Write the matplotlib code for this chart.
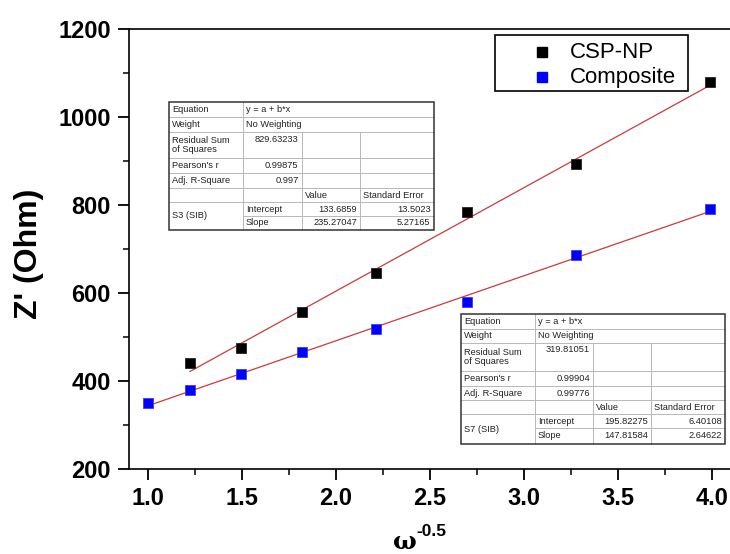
import matplotlib
matplotlib.use("Agg")
import matplotlib.pyplot as plt
from matplotlib.lines import Line2D
from matplotlib.patches import Rectangle
from matplotlib.ticker import MultipleLocator

plt.rcParams['font.family'] = ['Liberation Sans', 'DejaVu Sans']

# ---- data ----
x_csp = [1.224, 1.493, 1.820, 2.213, 2.695, 3.277, 3.990]
y_csp = [440, 475, 556, 645, 784, 894, 1080]
x_comp = [1.000, 1.224, 1.493, 1.820, 2.213, 2.695, 3.277, 3.990]
y_comp = [351, 379, 416, 467, 518, 580, 687, 792]

csp_intercept, csp_slope = 133.6859, 235.27047
comp_intercept, comp_slope = 195.82275, 147.81584

series_names = ["CSP-NP", "Composite"]
series_colors = ["black", "#0000ff"]
x_ticks = [1.0, 1.5, 2.0, 2.5, 3.0, 3.5, 4.0]
y_ticks = [200, 400, 600, 800, 1000, 1200]

table1_rows = [
    ["Equation", "y = a + b*x"],
    ["Weight", "No Weighting"],
    ["Residual Sum\nof Squares", "829.63233"],
    ["Pearson's r", "0.99875"],
    ["Adj. R-Square", "0.997"],
    ["", "", "Value", "Standard Error"],
    ["S3 (SIB)", "Intercept", "133.6859", "13.5023"],
    ["", "Slope", "235.27047", "5.27165"],
]
table2_rows = [
    ["Equation", "y = a + b*x"],
    ["Weight", "No Weighting"],
    ["Residual Sum\nof Squares", "319.81051"],
    ["Pearson's r", "0.99904"],
    ["Adj. R-Square", "0.99776"],
    ["", "", "Value", "Standard Error"],
    ["S7 (SIB)", "Intercept", "195.82275", "6.40108"],
    ["", "Slope", "147.81584", "2.64622"],
]

W, H = 730, 554
fig = plt.figure(figsize=(W / 100, H / 100), dpi=100)
ax_left, ax_right, ax_top, ax_bottom = 129, 731, 29, 469
ax = fig.add_axes([ax_left / W, 1 - ax_bottom / H, (ax_right - ax_left) / W, (ax_bottom - ax_top) / H])


def fx(px):
    return px / W


def fy(py):
    return 1 - py / H


# fit lines
fx1 = [min(x_csp), max(x_csp)]
ax.plot(fx1, [csp_intercept + csp_slope * v for v in fx1], color='#cc3a3a', lw=0.9, zorder=2)
fx2 = [min(x_comp), max(x_comp)]
ax.plot(fx2, [comp_intercept + comp_slope * v for v in fx2], color='#cc3a3a', lw=0.9, zorder=2)

ax.plot(x_csp, y_csp, 's', color=series_colors[0], markersize=7.8, markeredgecolor='#222222',
        markeredgewidth=0.6, zorder=3)
ax.plot(x_comp, y_comp, 's', color=series_colors[1], markersize=7.8, markeredgecolor='#3c3cff',
        markeredgewidth=0.6, zorder=3)

ax.set_xlim(0.9, 4.1)
ax.set_ylim(200, 1200)
ax.set_xticks(x_ticks)
ax.set_yticks(y_ticks)
ax.xaxis.set_minor_locator(MultipleLocator(0.25))
ax.yaxis.set_minor_locator(MultipleLocator(100))
ax.set_xticklabels([f"{v:.1f}" for v in x_ticks])
ax.set_yticklabels([str(v) for v in y_ticks])
ax.tick_params(which='major', direction='out', length=8, width=1.3, labelsize=17, pad=5)
ax.tick_params(which='minor', direction='out', length=4.5, width=1.1)
for lab in ax.get_xticklabels() + ax.get_yticklabels():
    lab.set_fontweight('bold')
for s in ax.spines.values():
    s.set_linewidth(1.2)

ax.set_ylabel("Z' (Ohm)", fontsize=23, fontweight='bold')
ax.yaxis.set_label_coords((44 - ax_left) / (ax_right - ax_left), 0.49)

# x label: omega with superscript
fig.text(fx(405), fy(549), "ω", fontsize=18, fontweight='bold', family='DejaVu Serif',
         ha='center', va='baseline')
fig.text(fx(416), fy(536), "-0.5", fontsize=12.5, fontweight='bold', ha='left', va='baseline')

# legend (manual, Origin-style)
fig.patches.append(Rectangle((fx(495), fy(91)), fx(688) - fx(495), fy(35) - fy(91),
                             transform=fig.transFigure, facecolor='white', edgecolor='black',
                             lw=1.2, zorder=8))
leg_y = [52, 77]
leg_ms = [7.5, 6.5]
for name, col, yy, ms in zip(series_names, series_colors, leg_y, leg_ms):
    fig.lines.append(Line2D([fx(542)], [fy(yy)], transform=fig.transFigure, marker='s',
                            linestyle='none', markersize=ms, color=col, zorder=9))
    fig.text(fx(570), fy(yy), name, fontsize=16, va='center', ha='left', zorder=9)


def draw_table(rows, cols, rws):
    fs = 6.7
    tc = '#222222'
    gc = '#b8b8b8'
    x0, x3 = cols[0], cols[-1]
    fig.patches.append(Rectangle((fx(x0), fy(rws[-1])), fx(x3) - fx(x0), fy(rws[0]) - fy(rws[-1]),
                                 transform=fig.transFigure, facecolor='white', edgecolor='none', zorder=4))
    for i in range(1, len(rws) - 1):
        xs = cols[1] if i == 7 else cols[0]
        fig.lines.append(Line2D([fx(xs), fx(x3)], [fy(rws[i])] * 2, transform=fig.transFigure,
                                color=gc, lw=0.7, zorder=5))
    fig.lines.append(Line2D([fx(cols[1])] * 2, [fy(rws[0]), fy(rws[-1])], transform=fig.transFigure,
                            color=gc, lw=0.7, zorder=5))
    for c in (cols[2], cols[3]):
        fig.lines.append(Line2D([fx(c)] * 2, [fy(rws[2]), fy(rws[-1])], transform=fig.transFigure,
                                color=gc, lw=0.7, zorder=5))
    fig.patches.append(Rectangle((fx(x0), fy(rws[-1])), fx(x3) - fx(x0), fy(rws[0]) - fy(rws[-1]),
                                 transform=fig.transFigure, facecolor='none', edgecolor='#333333',
                                 lw=1.1, zorder=6))
    pad = 3
    kw = dict(fontsize=fs, color=tc, va='center', zorder=7)
    for i, row in enumerate(rows):
        ymid = (rws[i] + rws[i + 1]) / 2
        if i == 6:
            fig.text(fx(cols[0] + pad), fy((rws[6] + rws[8]) / 2), row[0], **kw)
        if i in (6, 7):
            fig.text(fx(cols[1] + pad), fy(ymid), row[1], **kw)
            fig.text(fx(cols[3] - pad), fy(ymid), row[2], ha='right', **kw)
            fig.text(fx(cols[4] - pad), fy(ymid), row[3], ha='right', **kw)
        elif i == 5:
            fig.text(fx(cols[2] + pad), fy(ymid), row[2], **kw)
            fig.text(fx(cols[3] + pad), fy(ymid), row[3], **kw)
        elif i in (0, 1):
            fig.text(fx(cols[0] + pad), fy(ymid), row[0], **kw)
            fig.text(fx(cols[1] + pad), fy(ymid), row[1], **kw)
        else:
            fig.text(fx(cols[0] + pad), fy(ymid), row[0], linespacing=1.0, **kw)
            yv = rws[i] + 7 if i == 2 else ymid
            fig.text(fx(cols[2] - pad), fy(yv), row[1], ha='right', **kw)


draw_table(table1_rows, [169, 243, 301.5, 360, 433.5], [102, 117, 132, 158, 173, 188, 202, 216, 230])
draw_table(table2_rows, [461, 535, 593, 651, 725], [314, 329, 343, 371, 386, 400, 414, 428, 444])

fig.savefig("out.png", dpi=100)
